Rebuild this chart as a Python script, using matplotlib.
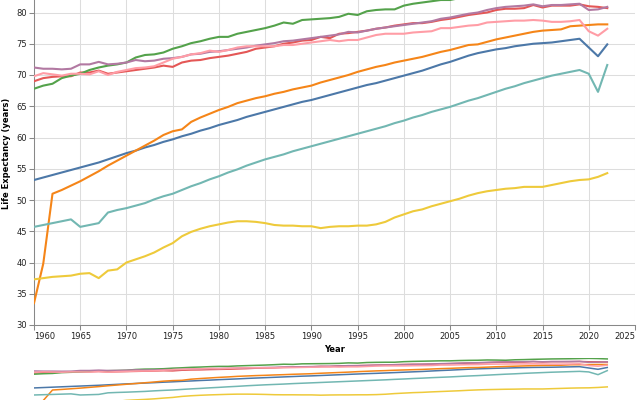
import matplotlib
matplotlib.use("Agg")
from matplotlib import pyplot as plt
import numpy as np

years = list(range(1960, 2023))

blue = [53.2, 53.6, 54.0, 54.4, 54.8, 55.2, 55.6, 56.0, 56.5, 57.0,
        57.5, 57.9, 58.4, 58.8, 59.3, 59.7, 60.2, 60.6, 61.1, 61.5,
        62.0, 62.4, 62.8, 63.3, 63.7, 64.1, 64.5, 64.9, 65.3, 65.7,
        66.0, 66.4, 66.8, 67.2, 67.6, 68.0, 68.4, 68.7, 69.1, 69.5,
        69.9, 70.3, 70.7, 71.2, 71.7, 72.1, 72.6, 73.1, 73.5, 73.8,
        74.1, 74.3, 74.6, 74.8, 75.0, 75.1, 75.2, 75.4, 75.6, 75.8,
        74.4, 73.0, 74.9]
orange = [33.5, 39.8, 51.0, 51.6, 52.3, 53.0, 53.8, 54.6, 55.5, 56.3,
          57.1, 57.9, 58.7, 59.5, 60.4, 61.0, 61.3, 62.5, 63.2, 63.8,
          64.4, 64.9, 65.5, 65.9, 66.3, 66.6, 67.0, 67.3, 67.7, 68.0,
          68.3, 68.8, 69.2, 69.6, 70.0, 70.5, 70.9, 71.3, 71.6, 72.0,
          72.3, 72.6, 72.9, 73.3, 73.7, 74.0, 74.4, 74.8, 74.9, 75.3,
          75.7, 76.0, 76.3, 76.6, 76.9, 77.1, 77.2, 77.3, 77.8, 77.9,
          78.0, 78.1, 78.1]
red = [69.0, 69.5, 69.7, 69.8, 69.8, 70.4, 70.4, 70.7, 70.2, 70.4,
       70.6, 70.8, 71.0, 71.2, 71.5, 71.3, 72.0, 72.3, 72.4, 72.7,
       72.9, 73.1, 73.4, 73.7, 74.2, 74.4, 74.6, 75.0, 75.2, 75.5,
       75.6, 76.1, 75.9, 76.6, 76.7, 76.9, 77.1, 77.4, 77.6, 77.9,
       78.1, 78.3, 78.3, 78.5, 78.8, 79.0, 79.3, 79.6, 79.8, 80.0,
       80.4, 80.6, 80.6, 80.7, 81.2, 80.8, 81.1, 81.1, 81.1, 81.3,
       81.0, 80.9, 80.7]
teal = [45.7, 46.0, 46.3, 46.6, 46.9, 45.7, 46.0, 46.3, 48.0, 48.4,
        48.7, 49.1, 49.5, 50.1, 50.6, 51.0, 51.6, 52.2, 52.7, 53.3,
        53.8, 54.4, 54.9, 55.5, 56.0, 56.5, 56.9, 57.3, 57.8, 58.2,
        58.6, 59.0, 59.4, 59.8, 60.2, 60.6, 61.0, 61.4, 61.8, 62.3,
        62.7, 63.2, 63.6, 64.1, 64.5, 64.9, 65.4, 65.9, 66.3, 66.8,
        67.3, 67.8, 68.2, 68.7, 69.1, 69.5, 69.9, 70.2, 70.5, 70.8,
        70.2, 67.3, 71.6]
green = [67.8, 68.3, 68.6, 69.5, 69.9, 70.2, 70.8, 71.2, 71.5, 71.7,
         72.0, 72.8, 73.2, 73.3, 73.6, 74.2, 74.6, 75.1, 75.4, 75.8,
         76.1, 76.1, 76.6, 76.9, 77.2, 77.5, 77.9, 78.4, 78.2, 78.8,
         78.9, 79.0, 79.1, 79.3, 79.8, 79.6, 80.2, 80.4, 80.5, 80.5,
         81.1, 81.4, 81.6, 81.8, 82.0, 82.0, 82.3, 82.5, 82.6, 82.9,
         82.8, 82.6, 83.1, 83.3, 83.6, 83.8, 84.0, 84.1, 84.2, 84.4,
         84.6, 84.4, 84.0]
yellow = [37.3, 37.5, 37.7, 37.8, 37.9, 38.2, 38.3, 37.5, 38.7, 38.9,
          40.0, 40.5, 41.0, 41.6, 42.4, 43.1, 44.2, 44.9, 45.4, 45.8,
          46.1, 46.4, 46.6, 46.6, 46.5, 46.3, 46.0, 45.9, 45.9, 45.8,
          45.8, 45.5, 45.7, 45.8, 45.8, 45.9, 45.9, 46.1, 46.5, 47.2,
          47.7, 48.2, 48.5, 49.0, 49.4, 49.8, 50.2, 50.7, 51.1, 51.4,
          51.6, 51.8, 51.9, 52.1, 52.1, 52.1, 52.4, 52.7, 53.0, 53.2,
          53.3, 53.7, 54.3]
purple = [71.2, 71.0, 71.0, 70.9, 71.0, 71.7, 71.7, 72.1, 71.7, 71.8,
          72.0, 72.4, 72.2, 72.3, 72.6, 72.7, 72.9, 73.3, 73.4, 73.7,
          73.8, 74.0, 74.2, 74.4, 74.7, 74.9, 75.1, 75.4, 75.5, 75.7,
          75.9, 76.1, 76.3, 76.5, 76.9, 76.8, 77.1, 77.4, 77.6, 77.8,
          78.0, 78.2, 78.4, 78.6, 79.0, 79.2, 79.5, 79.8, 80.0, 80.4,
          80.7, 80.9, 81.0, 81.1, 81.3, 81.0, 81.2, 81.2, 81.3, 81.4,
          80.4, 80.5, 80.9]
pink = [69.8, 70.3, 70.1, 69.9, 70.2, 70.2, 70.1, 70.6, 70.0, 70.5,
        70.8, 71.1, 71.2, 71.4, 72.0, 72.6, 72.9, 73.3, 73.5, 73.9,
        73.7, 74.0, 74.4, 74.6, 74.6, 74.6, 74.6, 74.8, 74.8, 75.0,
        75.2, 75.4, 75.6, 75.4, 75.6, 75.6, 76.0, 76.4, 76.6, 76.6,
        76.6, 76.8, 76.9, 77.0, 77.5, 77.5, 77.7, 77.9, 78.0, 78.4,
        78.5, 78.6, 78.7, 78.7, 78.8, 78.7, 78.5, 78.5, 78.6, 78.8,
        77.0, 76.3, 77.4]

series = [blue, orange, red, teal, green, yellow, purple, pink]
colors = ["#4c78a8", "#f58518", "#e45756", "#72b7b2", "#54a24b",
          "#eeca3b", "#b279a2", "#ff9da6"]

plt.rcParams['font.family'] = ['DejaVu Sans']

fig = plt.figure(figsize=(6.4, 4.0), dpi=100)

# main (focus) chart, top runs past the picture edge like the reference
ax = fig.add_axes([34/640, 75/400, 601/640, 343.75/400])
for vals, c in zip(series, colors):
    ax.plot(years, vals, color=c, lw=1.5, solid_joinstyle='round', zorder=3)
ax.set_xlim(1960, 2025)
ax.set_ylim(30, 85)
ax.set_xticks(np.arange(1960, 2026, 5))
ax.set_yticks(np.arange(30, 81, 5))
ax.axhline(85, color="#dddddd", lw=0.75, zorder=0)
ax.grid(True, color="#dddddd", lw=0.75, zorder=0)
for s in ["top", "right"]:
    ax.spines[s].set_visible(False)
for s in ["left", "bottom"]:
    ax.spines[s].set_color("#888888")
    ax.spines[s].set_linewidth(0.75)
ax.tick_params(colors="#888888", length=3.6, width=0.75, labelsize=6,
               labelcolor="#222222", pad=1.5)
xl = ax.get_xticklabels()
xl[0].set_horizontalalignment("left")
xl[-1].set_horizontalalignment("right")
ax.set_xlabel("Year", fontsize=6, fontweight="bold", labelpad=3)
ax.set_ylabel("Life Expectancy (years)", fontsize=6, fontweight="bold",
              labelpad=4)

# context chart below (cut by the bottom edge)
ax2 = fig.add_axes([34/640, -38/400, 601/640, 80/400])
for vals, c in zip(series, colors):
    ax2.plot(years, vals, color=c, lw=1.1, zorder=3)
ax2.set_xlim(1960, 2025)
ax2.set_ylim(0, 85)
ax2.axis("off")

fig.savefig("out.png", dpi=100)
